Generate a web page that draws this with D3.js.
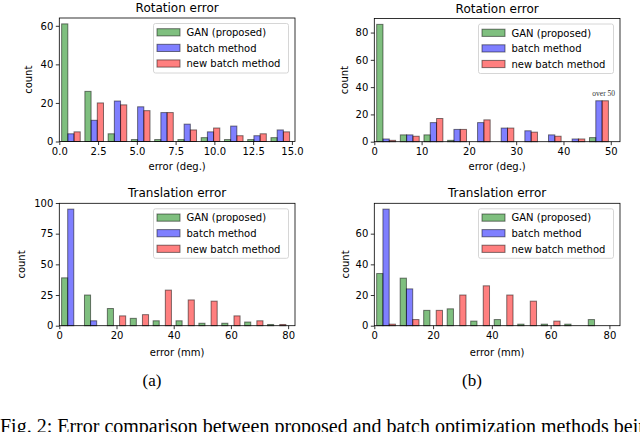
<!DOCTYPE html>
<html>
<head>
<meta charset="utf-8">
<script src="https://cdn.jsdelivr.net/npm/d3@7"></script>
<style>
  body { margin: 0; background: #fff; }
  svg { display: block; }
  text { font-family: "DejaVu Sans", sans-serif; fill: #000; }
</style>
</head>
<body>
<svg id="fig" width="640" height="432"></svg>
<script>
// ---- data ----
const seriesNames = ["GAN (proposed)", "batch method", "new batch method"];
const seriesColors = ["#008000", "#0000ff", "#ff0000"];

const rotA_edges = [0, 1.5, 3, 4.5, 6, 7.5, 9, 10.5, 12, 13.5, 15];
const rotA_gan   = [61, 26, 4, 1, 1, 1, 2, 1, 1, 2];
const rotA_batch = [4, 11, 21, 18, 15, 9, 5, 8, 3, 6];
const rotA_new   = [5, 20, 19, 16, 15, 6, 7, 3, 4, 5];
const rotA_ticks = [0, 2.5, 5, 7.5, 10, 12.5, 15];

const rotB_edges = [0, 5, 10, 15, 20, 25, 30, 35, 40, 45, 50];
const rotB_gan   = [86, 5, 5, 1, 0, 0, 0, 0, 0, 3];
const rotB_batch = [2, 5, 14, 9, 14, 10, 8, 5, 2, 30];
const rotB_new   = [1, 4, 17, 9, 16, 10, 7, 4, 2, 30];
const rotB_ticks = [0, 10, 20, 30, 40, 50];

const transA_edges = [0, 8, 16, 24, 32, 40, 48, 56, 64, 72, 80];
const transA_gan   = [39, 25, 14, 6, 4, 4, 2, 2, 3, 1];
const transA_batch = [95, 4, 0, 0, 0, 0, 0, 0, 0, 0];
const transA_new   = [0, 0, 8, 9, 29, 21, 20, 8, 4, 1];

const transB_edges = [0, 8, 16, 24, 32, 40, 48, 56, 64, 72, 80];
const transB_gan   = [34, 31, 10, 11, 3, 4, 1, 1, 1, 4];
const transB_batch = [76, 24, 0, 0, 0, 0, 0, 0, 0, 0];
const transB_new   = [1, 4, 10, 20, 26, 20, 16, 3, 0, 0];
const trans_ticks  = [0, 20, 40, 60, 80];

// tiny stand-in for d3-selection-multi's .attrs()
d3.selection.prototype.attrs = function(o) {
	for (const k in o) this.attr(k, o[k]);
	return this;
};

const svg = d3.select("#fig");

function panel(cfg) {
	const g = svg.append("g");
	const x = d3.scaleLinear().domain(cfg.xdom).range([cfg.left, cfg.right]);
	const y = d3.scaleLinear().domain(cfg.ydom).range([cfg.bottom, cfg.top]);

	// bars, matplotlib style: group of 3 taking 80% of each bin
	cfg.series.forEach((vals, s) => {
		const bars = vals.map((v, i) => {
			const w = cfg.edges[i + 1] - cfg.edges[i];
			const bw = 0.8 * w / 3;
			const x0 = cfg.edges[i] + 0.1 * w + s * bw;
			return {x0: x0, x1: x0 + bw, v: v};
		});
		g.selectAll(null)
			.data(bars).enter()
			.append("rect")
			.attrs({
				x: d => x(d.x0),
				y: d => y(d.v),
				width: d => x(d.x1) - x(d.x0),
				height: d => y(0) - y(d.v),
				fill: seriesColors[s],
				"fill-opacity": 0.5,
				stroke: "#000",
				"stroke-opacity": 0.5,
				"stroke-width": 1
			});
	});

	// axes
	const xa = g.append("g")
		.attr("transform", `translate(0,${cfg.bottom})`)
		.call(d3.axisBottom(x).tickValues(cfg.xticks).tickFormat(cfg.xfmt).tickSizeOuter(0).tickSize(3.5).tickPadding(2.5));
	const ya = g.append("g")
		.attr("transform", `translate(${cfg.left},0)`)
		.call(d3.axisLeft(y).tickValues(cfg.yticks).tickSizeOuter(0).tickSize(3.5).tickPadding(2.5));
	[xa, ya].forEach(a => {
		a.select(".domain").remove();
		a.selectAll("text").style("font-family", "DejaVu Sans").style("font-size", "10px");
		a.selectAll("line").attr("stroke-width", 0.8);
	});

	// frame
	g.append("rect")
		.attrs({
			x: cfg.left, y: cfg.top,
			width: cfg.right - cfg.left, height: cfg.bottom - cfg.top,
			fill: "none", stroke: "#000", "stroke-width": 0.8
		});

	// title + labels
	g.append("text")
		.attrs({x: (cfg.left + cfg.right) / 2, y: cfg.top - 6, "text-anchor": "middle"})
		.style("font-size", "12px")
		.text(cfg.title);
	g.append("text")
		.attrs({x: (cfg.left + cfg.right) / 2, y: cfg.xlabelY, "text-anchor": "middle"})
		.style("font-size", "10px")
		.text(cfg.xlabel);
	g.append("text")
		.attrs({
			transform: `translate(${cfg.ylabelX},${(cfg.top + cfg.bottom) / 2}) rotate(-90)`,
			"text-anchor": "middle", dy: "0.35em"
		})
		.style("font-size", "10px")
		.text("count");

	// legend
	const lw = 135, lh = 49.5;
	const lx = cfg.right - 6.5 - lw, ly = cfg.top + 5.5;
	const lg = g.append("g");
	lg.append("rect")
		.attrs({
			x: lx, y: ly, width: lw, height: lh, rx: 2,
			fill: "#fff", "fill-opacity": 0.8, stroke: "#ccc", "stroke-width": 0.8
		});
	seriesNames.forEach((name, s) => {
		const cy = ly + 9 + s * 15.6;
		lg.append("rect")
			.attrs({
				x: lx + 3.5, y: cy - 3.8, width: 23, height: 7.2,
				fill: seriesColors[s], "fill-opacity": 0.5,
				stroke: "#000", "stroke-opacity": 0.5, "stroke-width": 1
			});
		lg.append("text")
			.attrs({x: lx + 33, y: cy, dy: "0.35em"})
			.style("font-size", "10px")
			.text(name);
	});
	return {x: x, y: y, g: g};
}

panel({
	title: "Rotation error", xlabel: "error (deg.)",
	left: 59.3, right: 295, top: 18, bottom: 141.5,
	xdom: [0, 15.2], ydom: [0, 64.05],
	edges: rotA_edges, series: [rotA_gan, rotA_batch, rotA_new],
	xticks: rotA_ticks, xfmt: d3.format(".1f"), yticks: [0, 20, 40, 60],
	xlabelY: 170, ylabelX: 28.5
});

const pb = panel({
	title: "Rotation error", xlabel: "error (deg.)",
	left: 374.3, right: 620, top: 18.5, bottom: 141.7,
	xdom: [0, 51.95], ydom: [0, 90.3],
	edges: rotB_edges, series: [rotB_gan, rotB_batch, rotB_new],
	xticks: rotB_ticks, xfmt: d3.format("d"), yticks: [0, 20, 40, 60, 80],
	xlabelY: 170, ylabelX: 344
});
// "over 50" note above the last bin
pb.g.append("text")
	.attrs({x: pb.x(48.5), y: pb.y(30) - 5, "text-anchor": "middle"})
	.style("font-family", "Liberation Serif")
	.style("font-size", "7.5px")
	.style("fill", "#333")
	.text("over 50");

panel({
	title: "Translation error", xlabel: "error (mm)",
	left: 59.3, right: 295, top: 203.3, bottom: 325.7,
	xdom: [0, 82.4], ydom: [0, 99.75],
	edges: transA_edges, series: [transA_gan, transA_batch, transA_new],
	xticks: trans_ticks, xfmt: d3.format("d"), yticks: [0, 25, 50, 75, 100],
	xlabelY: 356, ylabelX: 21.7
});

panel({
	title: "Translation error", xlabel: "error (mm)",
	left: 374.3, right: 620, top: 203.3, bottom: 325.7,
	xdom: [0, 83.6], ydom: [0, 79.8],
	edges: transB_edges, series: [transB_gan, transB_batch, transB_new],
	xticks: trans_ticks, xfmt: d3.format("d"), yticks: [0, 20, 40, 60],
	xlabelY: 356, ylabelX: 345
});

// sub-captions and figure caption (cut off at the bottom, as in the page crop)
svg.append("text")
	.attrs({x: 152, y: 386, "text-anchor": "middle"})
	.style("font-family", "Liberation Serif").style("font-size", "17px")
	.text("(a)");
svg.append("text")
	.attrs({x: 472, y: 386, "text-anchor": "middle"})
	.style("font-family", "Liberation Serif").style("font-size", "17px")
	.text("(b)");
svg.append("text")
	.attrs({x: 0, y: 433})
	.style("font-family", "Liberation Serif").style("font-size", "20px")
	.text("Fig. 2: Error comparison between proposed and batch optimization methods being compared in");
</script>
</body>
</html>
